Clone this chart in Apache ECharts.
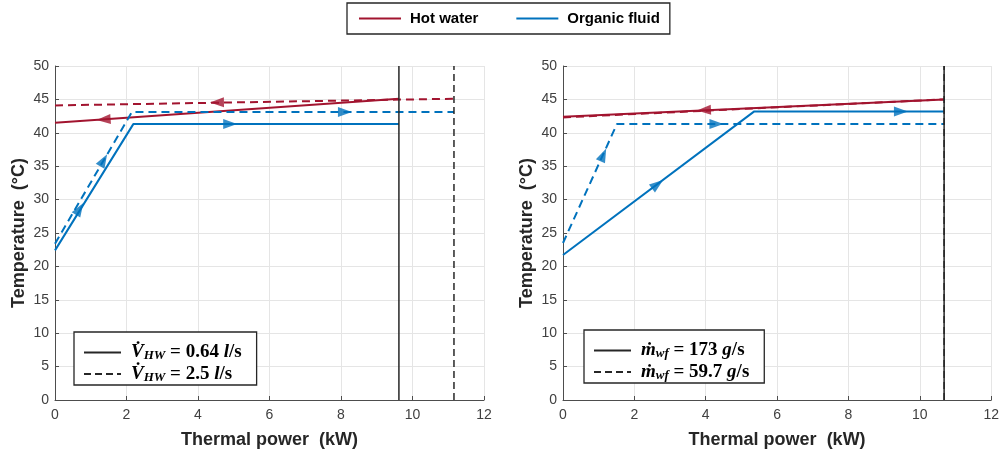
<!DOCTYPE html>
<html><head><meta charset="utf-8">
<script src="https://cdn.jsdelivr.net/npm/echarts@6/dist/echarts.min.js"></script>
<style>html,body{margin:0;padding:0;background:#fff}#c{width:1002px;height:455px}</style>
</head><body><div id="c"></div>
<script>
// ---------- data ----------
// Left panel: hot-water flow variation
const hwSolidL = [[0, 41.5], [9.62, 45.1]];
const hwDashL  = [[0, 44.1], [11.16, 45.1]];
const ofSolidL = [[0, 22.4], [2.19, 41.3], [9.62, 41.3]];
const ofDashL  = [[0, 23.4], [2.15, 43.1], [11.16, 43.1]];
const capL     = [9.62, 11.16];           // total thermal power (solid, dashed)
// Right panel: working-fluid mass-flow variation
const hwSolidR = [[0, 42.4], [10.68, 45.0]];
const hwDashR  = [[0, 42.3], [10.68, 45.0]];
const ofSolidR = [[0, 21.7], [5.36, 43.2], [10.68, 43.2]];
const ofDashR  = [[0, 23.5], [1.51, 41.3], [10.68, 41.3]];
const capR     = [10.68, 10.68];
// Flow-direction arrows [x, y]
const arrHwSolidL = [[1.36, 42.0]];
const arrHwDashL  = [[4.53, 44.55]];
const arrOfSolidL = [[0.69, 28.6], [4.9, 41.3]];
const arrOfDashL  = [[1.36, 35.9], [8.11, 43.1]];
const arrHwR      = [[3.95, 43.4]];
const arrOfSolidR = [[2.65, 32.3], [9.47, 43.2]];
const arrOfDashR  = [[1.13, 36.7], [4.3, 41.3]];
// Labels
const xTicksMax = 12, yTicksMax = 50;
const xName = 'Thermal power  (kW)';
const yName = 'Temperature  (°C)';
const legendNames = ['Hot water', 'Organic fluid'];
const legendL = ['{v|V\u0307}{s|HW}{n| = 0.64 }{v|l}{n|/s}', '{v|V\u0307}{s|HW}{n| = 2.5 }{v|l}{n|/s}'];
const legendR = ['{v|\u1E41}{s|wf}{n| = 173 }{v|g}{n|/s}', '{v|\u1E41}{s|wf}{n| = 59.7 }{v|g}{n|/s}'];

// ---------- styles ----------
const RED = '#A2142F', BLUE = '#0072BD', BLK = '#262626';
const DASH = [8, 5], DASHK = [7, 4];

function line(name, data, g, color, dashed, width, dash) {
  return {
    type: 'line', name: name, data: data, xAxisIndex: g, yAxisIndex: g,
    symbol: 'none', silent: true, z: 3,
    lineStyle: {color: color, width: width || 2, type: dashed ? (dash || DASH) : 'solid'},
    itemStyle: {color: color}
  };
}
function vline(name, x, g, dashed) {
  return line(name, [[x, 0], [x, yTicksMax]], g, BLK, dashed, 1.5, DASHK);
}
const arrowGroups = [
  {arr: arrHwSolidL, line: hwSolidL, g: 0, color: RED, sign: -1},
  {arr: arrHwDashL,  line: hwDashL,  g: 0, color: RED, sign: -1},
  {arr: arrOfSolidL, line: ofSolidL, g: 0, color: BLUE, sign: 1},
  {arr: arrOfDashL,  line: ofDashL,  g: 0, color: BLUE, sign: 1},
  {arr: arrHwR,      line: hwSolidR, g: 1, color: RED, sign: -1},
  {arr: arrOfSolidR, line: ofSolidR, g: 1, color: BLUE, sign: 1},
  {arr: arrOfDashR,  line: ofDashR,  g: 1, color: BLUE, sign: 1}
];
function arrowSeries(rots) {
  return arrowGroups.map((ag, k) => ({
    type: 'scatter', xAxisIndex: ag.g, yAxisIndex: ag.g, silent: true, z: 5,
    symbol: 'triangle', symbolSize: [10, 14],
    itemStyle: {color: ag.color},
    data: ag.arr.map((p, j) => ({value: p, symbolRotate: rots ? rots[k][j] : 0}))
  }));
}

function axisX(g) {
  return {
    type: 'value', gridIndex: g, min: 0, max: xTicksMax, interval: 2,
    name: xName, nameLocation: 'middle', nameGap: 31,
    nameTextStyle: {fontFamily: 'Liberation Sans', fontWeight: 'bold', fontSize: 18, color: BLK},
    axisLine: {show: true, lineStyle: {color: '#4d4d4d', width: 1}},
    axisTick: {show: true, inside: true, length: 4, lineStyle: {color: '#4d4d4d'}},
    axisLabel: {fontFamily: 'Liberation Sans', fontSize: 14, color: '#404040', margin: 8},
    splitLine: {show: true, lineStyle: {color: '#e5e5e5', width: 1}}
  };
}
function axisY(g) {
  return {
    type: 'value', gridIndex: g, min: 0, max: yTicksMax, interval: 5,
    name: yName, nameLocation: 'middle', nameGap: 27,
    nameTextStyle: {fontFamily: 'Liberation Sans', fontWeight: 'bold', fontSize: 18, color: BLK},
    axisLine: {show: true, lineStyle: {color: '#4d4d4d', width: 1}},
    axisTick: {show: true, inside: true, length: 4, lineStyle: {color: '#4d4d4d'}},
    axisLabel: {fontFamily: 'Liberation Sans', fontSize: 14, color: '#404040', margin: 6},
    splitLine: {show: true, lineStyle: {color: '#e5e5e5', width: 1}}
  };
}
const rich = {
  v: {fontFamily: 'Liberation Serif', fontStyle: 'italic', fontWeight: 'bold', fontSize: 19, color: '#000'},
  n: {fontFamily: 'Liberation Serif', fontWeight: 'bold', fontSize: 19, color: '#000'},
  s: {fontFamily: 'Liberation Serif', fontStyle: 'italic', fontWeight: 'bold', fontSize: 13, color: '#000', padding: [7, 0, 0, 0]}
};
const noSymbol = {color: 'rgba(0,0,0,0)', borderColor: 'rgba(0,0,0,0)', borderWidth: 0};
function boxLegend(names, texts, left, top) {
  return {
    data: names, orient: 'vertical', left: left, top: top,
    itemWidth: 37, itemHeight: 14, itemGap: 2,
    backgroundColor: '#fff', borderColor: BLK, borderWidth: 1.3,
    padding: [11, 15, 1, 9], selectedMode: false,
    itemStyle: noSymbol,
    formatter: n => texts[names.indexOf(n)],
    textStyle: {padding: [0, 0, 0, 5], rich: rich}
  };
}
const vNamesL = ['V1', 'V2'], vNamesR = ['M1', 'M2'];

function buildSeries(rots) {
  return [
    line('Hot water', hwSolidL, 0, RED, false),
    line('Hot water', hwDashL, 0, RED, true),
    line('Organic fluid', ofSolidL, 0, BLUE, false),
    line('Organic fluid', ofDashL, 0, BLUE, true),
    vline(vNamesL[0], capL[0], 0, false),
    vline(vNamesL[1], capL[1], 0, true),
    line('Hot water', hwSolidR, 1, RED, false),
    line('Hot water', hwDashR, 1, RED, true),
    line('Organic fluid', ofSolidR, 1, BLUE, false),
    line('Organic fluid', ofDashR, 1, BLUE, true),
    vline(vNamesR[0], capR[0], 1, false),
    vline(vNamesR[1], capR[1], 1, true)
  ].concat(arrowSeries(rots));
}

const chart = echarts.init(document.getElementById('c'), null, {renderer: 'canvas'});
const option = {
  animation: false,
  backgroundColor: '#fff',
  grid: [
    {left: 55, top: 66, width: 429, height: 334},
    {left: 563, top: 66, width: 430, height: 334}
  ],
  xAxis: [axisX(0), axisX(1)],
  yAxis: [axisY(0), axisY(1)],
  legend: [
    {
      data: legendNames, left: 347, top: 3, orient: 'horizontal',
      itemWidth: 42, itemHeight: 14, itemGap: 37, selectedMode: false,
      backgroundColor: '#fff', borderColor: BLK, borderWidth: 1.3,
      padding: [8, 10, 8, 11],
      itemStyle: noSymbol,
      textStyle: {fontFamily: 'Liberation Sans', fontWeight: 'bold', fontSize: 15, color: '#000', padding: [0, 0, 0, 4]}
    },
    boxLegend(vNamesL, legendL, 74, 332),
    boxLegend(vNamesR, legendR, 584, 330)
  ],
  series: buildSeries(null)
};
chart.setOption(option);

// orient each arrow along its line segment in pixel space
const rots = arrowGroups.map(ag => ag.arr.map(p => {
  const L = ag.line;
  let i = 0;
  while (i < L.length - 2 && p[0] > L[i + 1][0]) i++;
  const a = chart.convertToPixel({gridIndex: ag.g}, L[i]);
  const b = chart.convertToPixel({gridIndex: ag.g}, L[i + 1]);
  let th = Math.atan2(-(b[1] - a[1]), b[0] - a[0]) * 180 / Math.PI;
  if (ag.sign < 0) th += 180;
  return th - 90;
}));
chart.setOption({series: buildSeries(rots)});
</script></body></html>
